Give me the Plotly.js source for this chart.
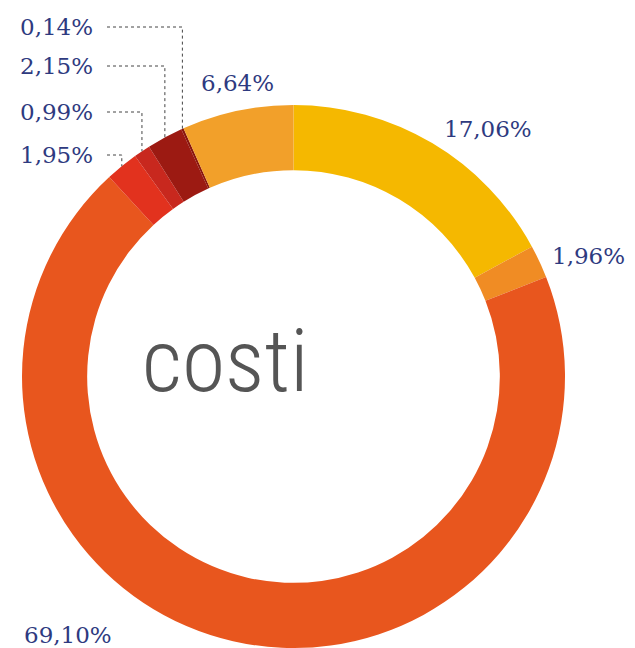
<!DOCTYPE html>
<html>
<head>
<meta charset="utf-8">
<script src="https://cdn.plot.ly/plotly-3.0.1.min.js"></script>
<style>html,body{margin:0;padding:0;background:#fff;}#chart{width:635px;height:648px;}</style>
</head>
<body>
<div id="chart"></div>
<script>
// Data (clockwise from 12 o'clock)
const categories = ["A", "B", "C", "D", "E", "F", "G", "H"];
const values = [17.06, 1.96, 69.10, 1.95, 0.99, 2.15, 0.14, 6.64];
const valueLabels = ["17,06%", "1,96%", "69,10%", "1,95%", "0,99%", "2,15%", "0,14%", "6,64%"];
const colors = ["#F5B800", "#F08C24", "#E8561E", "#E2321E", "#C8281E", "#9C1A12", "#8A160E", "#F2A02A"];
const centerText = "costi";

const W = 635, H = 648;
const domX = [22 / W, 565 / W];
const domY = [0, 1 - 105 / H];
const hole = 0.76;

// pie geometry in pixels (derived from the domain)
const cx = (domX[0] + domX[1]) / 2 * W;
const cy = (1 - (domY[0] + domY[1]) / 2) * H;
const R = Math.min((domX[1] - domX[0]) * W, (domY[1] - domY[0]) * H) / 2;

const total = values.reduce((a, b) => a + b, 0);
const mids = [];
let cum = 0;
values.forEach(v => { mids.push((cum + v / 2) / total * 2 * Math.PI); cum += v; });
function edgePoint(i) {
  const a = mids[i];
  return [cx + R * Math.sin(a), cy - R * Math.cos(a)];
}
const px = x => x / W;
const py = y => 1 - y / H;

const labelFont = {family: "DejaVu Serif", size: 23, color: "#2E3A80"};
// label placement (layout)
const placements = [
  {x: 442, y: 129, xa: "left"},
  {x: 550, y: 256, xa: "left"},
  {x: 22, y: 635, xa: "left"},
  {x: 95, y: 155, xa: "right", lead: true},
  {x: 95, y: 112, xa: "right", lead: true},
  {x: 95, y: 66, xa: "right", lead: true},
  {x: 95, y: 27, xa: "right", lead: true},
  {x: 199, y: 83, xa: "left"}
];

const annotations = placements.map((p, i) => ({
  x: px(p.x), y: py(p.y), xref: "paper", yref: "paper",
  xanchor: p.xa, yanchor: "middle", showarrow: false,
  text: valueLabels[i], font: labelFont
}));
annotations.push({
  x: px(cx - 68), y: py(360), xref: "paper", yref: "paper",
  xanchor: "center", yanchor: "middle", showarrow: false,
  text: centerText,
  font: {family: "Roboto Condensed, Roboto", size: 88, color: "#555555", weight: 300}
});

const shapes = [];
placements.forEach((p, i) => {
  if (!p.lead) return;
  const [ex, ey] = edgePoint(i);
  shapes.push({
    type: "path", xref: "paper", yref: "paper",
    path: `M ${px(107)} ${py(p.y)} L ${px(ex)} ${py(p.y)} L ${px(ex)} ${py(ey)}`,
    line: {color: "#444", width: 1, dash: "dot"}
  });
});

const trace = {
  type: "pie",
  labels: categories,
  values: values,
  sort: false,
  direction: "clockwise",
  rotation: 0,
  hole: hole,
  textinfo: "none",
  hoverinfo: "none",
  marker: {colors: colors, line: {width: 0}},
  domain: {x: domX, y: domY}
};

Plotly.newPlot("chart", [trace], {
  width: W, height: H,
  margin: {l: 0, r: 0, t: 0, b: 0},
  showlegend: false,
  paper_bgcolor: "#ffffff",
  annotations: annotations,
  shapes: shapes
}, {displayModeBar: false, staticPlot: true});
</script>
</body>
</html>
